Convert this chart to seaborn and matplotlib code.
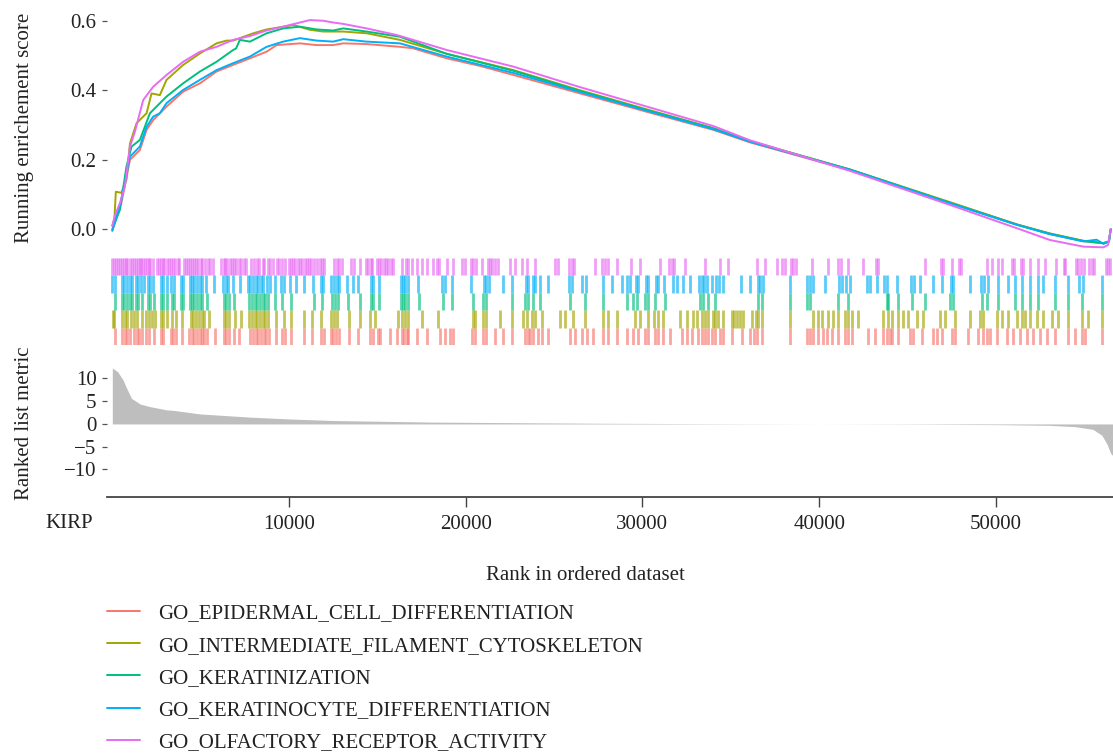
import numpy as np
import pandas as pd
import matplotlib
matplotlib.use("Agg")
import matplotlib.pyplot as plt
from matplotlib.lines import Line2D
import seaborn as sns

# ---------------- data ----------------
gene_sets = [
    "GO_EPIDERMAL_CELL_DIFFERENTIATION",
    "GO_INTERMEDIATE_FILAMENT_CYTOSKELETON",
    "GO_KERATINIZATION",
    "GO_KERATINOCYTE_DIFFERENTIATION",
    "GO_OLFACTORY_RECEPTOR_ACTIVITY",
]
colors = ["#F8766D", "#A3A500", "#00BF7D", "#00B0F6", "#E76BF3"]

# running enrichment score curves (rank in thousands, ES)
es_red_x = [0, 0.51, 1.0, 1.56, 1.94, 2.31, 3.07, 4.01, 4.96, 5.9, 6.84, 7.79, 8.73, 9.3, 10.62, 11.56, 12.5, 13.07,
            14.39, 16.28, 17.0, 18.92, 20.81, 22.7, 26.47, 30.25, 34.02, 36.09, 41.75, 47.41, 51.19, 53.07, 54.96,
            56.09, 56.4, 56.5]
es_red_y = [-0.004, 0.075, 0.2, 0.228, 0.286, 0.314, 0.353, 0.396, 0.42, 0.454, 0.473, 0.492, 0.511, 0.530, 0.535,
            0.530, 0.530, 0.535, 0.533, 0.525, 0.521, 0.492, 0.47, 0.444, 0.391, 0.338, 0.286, 0.25, 0.17, 0.076,
            0.014, -0.014, -0.034, -0.04, -0.035, 0.0]

es_olive_x = [0, 0.12, 0.2, 0.51, 0.8, 1.0, 1.37, 1.94, 2.22, 2.69, 3.07, 4.01, 4.96, 5.9, 6.47, 6.84, 7.98, 8.73,
              9.67, 10.24, 11.18, 11.94, 13.07, 14.39, 16.28, 18.92, 22.7, 26.47, 30.25, 34.02, 36.09, 41.75, 47.41,
              51.19, 53.07, 54.96, 56.09, 56.4, 56.5]
es_olive_y = [0.01, 0.03, 0.108, 0.105, 0.142, 0.247, 0.305, 0.334, 0.391, 0.386, 0.43, 0.473, 0.506, 0.535, 0.543,
              0.543, 0.564, 0.575, 0.583, 0.588, 0.574, 0.569, 0.569, 0.564, 0.545, 0.505, 0.458, 0.40, 0.345, 0.291,
              0.254, 0.172, 0.078, 0.014, -0.012, -0.033, -0.04, -0.035, 0.0]

es_green_x = [0, 0.43, 0.8, 1.09, 1.56, 2.13, 2.5, 3.07, 4.01, 4.96, 5.9, 6.84, 7.0, 7.22, 7.79, 8.73, 9.67, 10.62,
              11.56, 12.5, 13.07, 14.39, 16.28, 18.92, 22.7, 26.47, 30.25, 34.02, 36.09, 41.75, 47.41, 51.19, 53.07,
              54.96, 56.09, 56.4, 56.5]
es_green_y = [0.0, 0.056, 0.18, 0.238, 0.257, 0.334, 0.353, 0.382, 0.42, 0.454, 0.482, 0.516, 0.52, 0.545, 0.540,
              0.564, 0.578, 0.583, 0.575, 0.572, 0.578, 0.569, 0.554, 0.505, 0.456, 0.398, 0.343, 0.29, 0.253, 0.172,
              0.076, 0.013, -0.013, -0.034, -0.04, -0.035, 0.0]

es_blue_x = [0, 0.51, 1.0, 1.56, 1.94, 2.31, 2.69, 3.07, 4.01, 4.96, 5.9, 6.84, 7.79, 8.73, 9.67, 10.62, 11.56, 12.5,
             13.07, 14.39, 16.28, 18.92, 22.7, 26.47, 30.25, 34.02, 36.09, 41.75, 47.41, 51.19, 53.07, 54.96, 55.7,
             56.09, 56.4, 56.5]
es_blue_y = [-0.004, 0.084, 0.209, 0.238, 0.295, 0.324, 0.334, 0.363, 0.401, 0.43, 0.458, 0.478, 0.497, 0.525, 0.540,
             0.550, 0.543, 0.540, 0.547, 0.540, 0.535, 0.497, 0.45, 0.395, 0.341, 0.288, 0.252, 0.171, 0.075, 0.013,
             -0.014, -0.035, -0.03, -0.042, -0.035, 0.0]

es_purple_x = [0, 0.15, 0.43, 0.71, 1.0, 1.28, 1.75, 2.31, 3.07, 4.01, 4.96, 5.9, 6.84, 7.79, 8.73, 9.67, 10.62, 11.18,
               11.94, 12.5, 13.07, 14.39, 16.1, 18.92, 22.7, 26.47, 30.25, 34.02, 36.09, 41.75, 47.41, 51.19, 53.07,
               54.96, 56.09, 56.35, 56.5]
es_purple_y = [0.01, 0.04, 0.075, 0.123, 0.238, 0.281, 0.372, 0.41, 0.444, 0.482, 0.511, 0.525, 0.545, 0.556, 0.572,
               0.583, 0.595, 0.602, 0.600, 0.595, 0.591, 0.578, 0.559, 0.516, 0.468, 0.409, 0.353, 0.297, 0.256,
               0.168, 0.070, 0.003, -0.031, -0.05, -0.052, -0.045, 0.0]

# gene-set hit positions (rank in thousands)
hits_red = [0.18, 0.56, 0.7, 0.84, 1.0, 1.22, 1.37, 1.5, 1.7, 1.88, 2.07, 2.35, 2.73, 2.88, 3.3, 3.45, 3.58, 3.95,
            4.33, 4.5, 4.65, 4.8, 4.95, 5.1, 5.18, 5.37, 5.84, 6.3, 6.45, 6.6, 6.88, 7.16, 7.82, 7.97, 8.12, 8.27,
            8.42, 8.57, 8.72, 8.88, 9.24, 9.61, 9.8, 10.09, 10.84, 11.31, 11.79, 11.98, 12.35, 12.5, 12.65, 12.84,
            13.39, 13.92, 14.58, 14.73, 15.05, 15.15, 15.71, 16.09, 16.37, 16.5, 16.65, 16.75, 17.22, 17.79, 18.54,
            18.83, 19.11, 19.3, 20.34, 20.52, 21.0, 21.17, 21.66, 22.13, 22.6, 23.35, 23.5, 23.64, 23.83, 24.11,
            24.3, 24.67, 25.9, 26.18, 26.56, 26.84, 27.22, 27.79, 28.07, 28.54, 29.11, 29.49, 29.77, 30.14, 30.33,
            30.71, 30.9, 31.18, 31.56, 32.22, 32.5, 32.79, 33.16, 33.35, 33.54, 33.73, 33.92, 34.11, 34.39, 34.58,
            35.05, 35.62, 36.09, 36.3, 36.5, 36.75, 38.35, 39.3, 39.5, 39.67, 39.96, 40.24, 40.43, 40.71, 41.09,
            41.47, 41.66, 41.85, 42.78, 43.16, 43.63, 43.82, 44.01, 44.11, 44.48, 45.14, 45.33, 45.8, 46.46, 46.65,
            46.94, 47.5, 47.69, 48.45, 49.01, 49.3, 49.48, 49.67, 50.05, 50.62, 50.99, 51.37, 51.75, 52.13, 52.5,
            52.88, 53.35, 54.11, 54.48, 54.86, 55.05, 56.0]
hits_olive = [0.05, 0.12, 0.56, 0.7, 0.84, 1.03, 1.22, 1.41, 1.7, 1.88, 2.08, 2.25, 2.44, 2.73, 2.88, 3.07, 3.4, 3.58,
              3.95, 4.43, 4.58, 4.73, 4.9, 5.05, 5.18, 5.46, 6.3, 6.45, 6.6, 6.92, 7.26, 7.73, 7.9, 8.05, 8.2, 8.35,
              8.5, 8.65, 8.82, 9.24, 9.71, 10.09, 10.84, 11.31, 11.79, 12.35, 12.54, 12.73, 13.39, 14.01, 14.58,
              14.86, 16.18, 16.37, 16.56, 16.75, 17.5, 18.45, 20.43, 20.52, 21.0, 21.17, 21.94, 22.6, 23.26, 23.45,
              23.73, 23.92, 24.3, 25.33, 25.62, 26.09, 26.75, 27.79, 28.07, 28.54, 29.58, 29.86, 30.33, 30.64, 30.9,
              31.18, 32.13, 32.5, 32.88, 33.07, 33.35, 33.54, 33.73, 33.98, 34.11, 34.3, 34.58, 35.05, 35.2, 35.34,
              35.52, 35.71, 36.18, 36.43, 36.56, 36.75, 38.35, 39.67, 39.96, 40.15, 40.5, 40.8, 41.09, 41.47, 41.66,
              41.85, 42.22, 43.63, 43.92, 44.11, 44.48, 44.77, 45.05, 45.52, 45.9, 46.84, 47.13, 47.69, 48.54, 49.11,
              49.3, 50.05, 50.33, 50.71, 51.18, 51.47, 51.66, 51.94, 52.31, 52.69, 53.16, 53.54, 54.11, 54.86, 55.24,
              56.0]
hits_green = [0.18, 0.56, 0.69, 0.84, 0.99, 1.12, 1.35, 1.44, 1.7, 2.01, 2.12, 2.35, 2.77, 2.88, 3.07, 3.4, 3.5, 3.9,
              4.01, 4.39, 4.52, 4.65, 4.8, 4.95, 5.1, 5.37, 6.3, 6.45, 6.6, 6.88, 7.73, 7.9, 8.05, 8.2, 8.35, 8.5,
              8.65, 8.82, 9.18, 9.61, 10.09, 11.41, 11.88, 12.45, 12.6, 12.75, 13.33, 14.01, 14.62, 14.73, 15.09,
              16.32, 16.43, 16.56, 16.75, 17.35, 18.73, 19.2, 20.43, 21.0, 21.17, 22.6, 23.35, 23.5, 23.83, 24.2,
              25.9, 26.75, 27.79, 29.11, 29.49, 29.68, 30.14, 30.3, 30.71, 31.28, 33.26, 33.45, 33.73, 34.11, 36.56,
              36.75, 38.35, 39.3, 39.49, 41.09, 41.66, 43.82, 43.92, 44.48, 45.24, 45.99, 47.41, 47.6, 49.2, 49.48,
              50.14, 51.09, 51.47, 51.94, 52.41, 53.35, 54.11, 54.86, 56.0]
hits_blue = [0.0, 0.18, 0.56, 0.69, 0.84, 0.99, 1.12, 1.35, 1.44, 1.63, 1.78, 2.01, 2.12, 2.29, 2.77, 2.88, 3.07, 3.35,
             3.48, 3.9, 4.01, 4.39, 4.52, 4.65, 4.8, 4.95, 5.1, 5.33, 5.78, 6.28, 6.41, 6.54, 6.84, 7.22, 7.67, 7.82,
             7.95, 8.11, 8.24, 8.39, 8.54, 8.73, 8.9, 9.18, 9.56, 9.71, 10.03, 10.41, 10.84, 11.35, 11.82, 11.94,
             12.39, 12.54, 12.69, 12.84, 13.3, 13.6, 13.92, 14.62, 14.73, 15.09, 16.32, 16.43, 16.56, 16.75, 17.32,
             18.64, 18.83, 19.2, 20.28, 21.05, 21.17, 21.32, 22.13, 22.6, 23.41, 23.5, 23.79, 23.92, 24.22, 24.67,
             25.86, 25.99, 26.6, 26.79, 27.79, 28.26, 28.82, 29.11, 29.3, 29.62, 29.77, 30.18, 30.3, 30.75, 30.86,
             31.24, 31.75, 31.94, 32.32, 32.69, 33.2, 33.35, 33.5, 33.65, 33.96, 34.14, 34.33, 34.58, 35.56, 36.09,
             36.52, 36.67, 36.82, 38.35, 39.33, 39.47, 39.67, 40.33, 41.13, 41.32, 41.5, 41.75, 42.73, 42.88, 43.26,
             43.67, 43.82, 44.39, 45.2, 45.35, 45.71, 46.46, 46.94, 47.45, 47.6, 48.54, 49.16, 49.35, 49.58, 50.14,
             50.71, 51.09, 51.47, 51.94, 52.41, 52.69, 53.35, 54.11, 54.71, 54.96, 56.0]
hits_purple = [0.0, 0.1, 0.2, 0.3, 0.45, 0.55, 0.65, 0.75, 0.85, 1.0, 1.1, 1.2, 1.35, 1.45, 1.55, 1.65, 1.75, 1.85,
               1.95, 2.05, 2.15, 2.3, 2.55, 2.65, 2.75, 2.85, 2.95, 3.1, 3.2, 3.3, 3.45, 3.55, 3.7, 3.8, 4.05, 4.15,
               4.3, 4.4, 4.5, 4.6, 4.75, 4.85, 5.0, 5.1, 5.25, 5.4, 5.55, 5.7, 6.15, 6.3, 6.4, 6.5, 6.65, 6.75, 6.9,
               7.0, 7.15, 7.3, 7.45, 7.55, 7.85, 8.0, 8.2, 8.3, 8.5, 8.6, 8.8, 8.95, 9.1, 9.3, 9.45, 9.6, 9.75, 10.0,
               10.1, 10.25, 10.35, 10.5, 10.6, 10.75, 10.9, 11.0, 11.15, 11.25, 11.4, 11.6, 11.75, 11.85, 12.0,
               12.55, 12.7, 12.85, 13.0, 13.5, 13.7, 14.01, 14.33, 14.45, 14.64, 14.71, 15.0, 15.11, 15.22, 15.39,
               15.49, 15.6, 15.77, 15.9, 16.37, 16.6, 16.71, 16.94, 17.22, 17.5, 17.79, 18.16, 18.39, 18.5, 18.92,
               19.3, 19.81, 19.96, 20.3, 20.43, 20.56, 20.9, 21.24, 21.37, 21.5, 21.66, 21.81, 22.5, 22.79, 23.16,
               23.45, 23.92, 25.05, 25.24, 25.86, 25.99, 26.13, 27.32, 27.7, 27.88, 28.07, 28.54, 29.33, 29.86,
               30.99, 31.5, 31.65, 31.8, 32.41, 33.54, 34.39, 34.86, 36.47, 36.94, 37.6, 37.88, 38.07, 38.41, 38.54,
               38.67, 39.58, 40.52, 41.09, 41.24, 41.66, 42.5, 43.2, 43.31, 45.99, 46.88, 47.01, 47.5, 47.92, 48.03,
               49.48, 49.77, 50.14, 50.33, 50.94, 51.05, 51.41, 51.52, 51.94, 52.41, 52.79, 53.39, 53.83, 53.92,
               54.52, 54.67, 54.82, 54.97, 55.28, 55.43, 55.58, 56.22, 56.33, 56.46]

# ranked list metric (rank in thousands, metric)
metric_x = [0, 0.3, 0.62, 0.77, 1.09, 1.38, 1.56, 2.13, 3.07, 3.43, 4.96, 7.79, 10.0, 12.5, 18.2, 27.6, 35.0, 45.0,
            50.0, 53.0, 54.5, 55.5, 56.0, 56.3, 56.5, 56.63]
metric_y = [12.3, 11.5, 9.6, 8.2, 5.6, 4.9, 4.4, 3.8, 3.1, 3.0, 2.2, 1.5, 1.1, 0.75, 0.4, 0.15, 0.05, -0.05, -0.15,
            -0.3, -0.6, -1.2, -2.5, -4.5, -6.5, -7.0]

x_ticks = [10000, 20000, 30000, 40000, 50000]
es_ticks = [0.0, 0.2, 0.4, 0.6]
metric_ticks = [10, 5, 0, -5, -10]

# ---------------- style ----------------
sns.set_theme(style="white")
plt.rcParams["font.family"] = ["Liberation Serif", "DejaVu Serif"]
TXT = "#222222"
FS = 15

W, H = 1113, 756
fig = plt.figure(figsize=(W / 100, H / 100), dpi=100)

def frac_box(x0, y_top, x1, y_bot):
    return [x0 / W, 1 - y_bot / H, (x1 - x0) / W, (y_bot - y_top) / H]

XLIM = (-300, 56630)

ax_es = fig.add_axes(frac_box(107, 2, 1113, 255))
ax_bar = fig.add_axes(frac_box(107, 258, 1113, 345))
ax_met = fig.add_axes(frac_box(107, 350, 1113, 496.7))

# ES curves
es_data = [
    (es_red_x, es_red_y), (es_olive_x, es_olive_y), (es_green_x, es_green_y),
    (es_blue_x, es_blue_y), (es_purple_x, es_purple_y),
]
frames = []
for name, (xs, ys) in zip(gene_sets, es_data):
    frames.append(pd.DataFrame({"rank": np.array(xs) * 1000, "es": ys, "set": name}))
df = pd.concat(frames, ignore_index=True)
sns.lineplot(data=df, x="rank", y="es", hue="set", hue_order=gene_sets,
             palette=colors, estimator=None, sort=False, linewidth=1.4,
             legend=False, ax=ax_es)
ax_es.set_xlim(*XLIM)
ax_es.set_ylim(-0.074, 0.654)
ax_es.set_yticks(es_ticks)
ax_es.set_yticklabels([f"{v:.1f}" for v in es_ticks])
ax_es.set_xticks([])
ax_es.set_xlabel("")
ax_es.set_ylabel("")
for s in ax_es.spines.values():
    s.set_visible(False)
ax_es.tick_params(axis="y", left=True, length=3.5, width=0.9, color="#555555",
                  labelsize=FS, labelcolor=TXT, pad=4)

# barcode
hit_lists = [hits_red, hits_olive, hits_green, hits_blue, hits_purple]
for i, (hits, c) in enumerate(zip(hit_lists, colors)):
    ax_bar.vlines(np.array(hits) * 1000, i, i + 1, color=c, linewidth=2.0, alpha=0.65)
ax_bar.set_xlim(*XLIM)
ax_bar.set_ylim(0, 5)
ax_bar.set_xticks([])
ax_bar.set_yticks([])
for s in ax_bar.spines.values():
    s.set_visible(False)

# ranked list metric
mx = np.array(metric_x) * 1000
ax_met.fill_between(mx, 0, metric_y, color="#BEBEBE", linewidth=0)
ax_met.set_xlim(*XLIM)
ax_met.set_ylim(-16.0, 16.26)
ax_met.set_yticks(metric_ticks)
ax_met.set_yticklabels([f"{v}".replace("-", "\u2212") for v in metric_ticks])
ax_met.set_xticks(x_ticks)
ax_met.set_xticklabels([str(v) for v in x_ticks])
for k in ["top", "right", "left"]:
    ax_met.spines[k].set_visible(False)
ax_met.spines["bottom"].set_color("#444444")
ax_met.spines["bottom"].set_linewidth(1.3)
ax_met.tick_params(axis="y", left=True, length=3.5, width=0.9, color="#555555",
                   labelsize=FS, labelcolor=TXT, pad=4)
ax_met.tick_params(axis="x", bottom=True, length=7, width=1.0, color="#444444",
                   labelsize=FS, labelcolor=TXT, pad=6)

# labels
fig.text(25 / W, 1 - 128 / H, "Running enrichement score", rotation=90,
         ha="center", va="center", fontsize=FS, color=TXT)
fig.text(25 / W, 1 - 423 / H, "Ranked list metric", rotation=90,
         ha="center", va="center", fontsize=FS, color=TXT)
fig.text(585 / W, 1 - 575 / H, "Rank in ordered dataset",
         ha="center", va="center", fontsize=FS, color=TXT)
fig.text(69 / W, 1 - 523 / H, "KIRP", ha="center", va="center", fontsize=FS, color=TXT)

# legend
handles = [Line2D([0], [0], color=c, lw=1.4) for c in colors]
fig.legend(handles, gene_sets, loc="upper left", bbox_to_anchor=(107 / W, 1 - 604 / H),
           frameon=False, fontsize=FS, handlelength=1.6, handletextpad=0.85,
           labelspacing=0.6, borderpad=0, borderaxespad=0, labelcolor=TXT)

fig.savefig("out.png", dpi=100)
